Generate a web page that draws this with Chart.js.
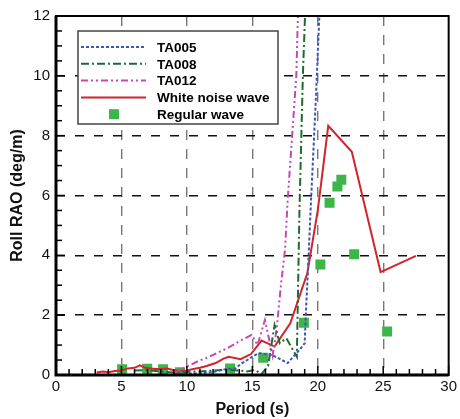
<!DOCTYPE html>
<html>
<head>
<meta charset="utf-8">
<script src="https://cdn.jsdelivr.net/npm/chart.js@4.4.0/dist/chart.umd.min.js"></script>
<style>
  html, body { margin: 0; padding: 0; background: #fff; }
  #wrap { width: 460px; height: 419px; }
</style>
</head>
<body>
<div id="wrap"><canvas id="chart" width="460" height="419"></canvas></div>
<script>
// [period (s), roll RAO (deg/m)]
const ta005 = [[9.0,0.02],[10,0.05],[11,0.05],[12,0.1],[12.6,0.16],[13.0,0.2],[13.7,0.22],[14.2,0.39],[15.45,0.73],[16.5,0.67],[17.7,0.4],[18.6,0.84],[19.0,1.06],[19.1,2.17],[19.25,3.5],[19.45,5.5],[19.85,9.2],[20.15,12.3]];
const ta008 = [[6.0,0.15],[7.0,0.16],[8.0,0.12],[9.0,0.08],[10,0.1],[11,0.12],[12,0.15],[13,0.18],[14,0.15],[14.6,0.12],[15.2,0.17],[15.7,0.03],[16.2,0.3],[16.7,1.67],[17.1,1.06],[17.6,1.23],[18.1,0.84],[18.4,0.61],[18.6,5.5],[18.86,10],[19.05,12.3]];
const ta012 = [[9.0,0.05],[10,0.28],[10.8,0.45],[11.7,0.61],[13.2,0.92],[14.1,1.15],[14.95,1.34],[15.4,1.0],[15.96,1.84],[16.55,0.65],[16.85,1.5],[17.2,3.07],[17.5,4.2],[17.7,5.85],[18.36,10],[18.5,12.3]];
const whiteNoise = [[3.1,0.08],[3.6,0.12],[4.0,0.09],[4.5,0.13],[5.0,0.15],[5.5,0.22],[6.0,0.24],[6.4,0.32],[6.8,0.24],[7.2,0.22],[7.6,0.2],[8.0,0.2],[8.5,0.22],[9.0,0.16],[9.5,0.14],[10.0,0.15],[10.5,0.2],[11.0,0.24],[11.5,0.3],[12.2,0.4],[12.8,0.55],[13.2,0.61],[14.1,0.53],[14.9,0.7],[15.7,1.15],[16.7,0.95],[17.9,1.73],[19.2,3.4],[20.0,5.5],[20.8,8.33],[22.6,7.46],[24.8,3.44],[27.5,3.98]];
const regularWave = [[5.05,0.19],[6.97,0.21],[8.18,0.19],[9.47,0.09],[13.3,0.22],[15.83,0.58],[18.94,1.75],[20.2,3.69],[20.9,5.76],[21.5,6.3],[21.8,6.53],[22.78,4.04],[25.3,1.45]];

const xTicks = [0, 5, 10, 15, 20, 25, 30];
const yTicks = [0, 2, 4, 6, 8, 10, 12];

const toXY = arr => arr.map(p => ({ x: p[0], y: p[1] }));
const FONT = "'Liberation Sans', Arial, sans-serif";

// legend box drawn inside the plot, plus inward ticks and frame
const legendBox = {
  id: "legendBox",
  afterDatasetsDraw(chart) {
    const { ctx, chartArea: a, scales: { x, y } } = chart;
    ctx.save();

    // inward ticks
    ctx.strokeStyle = "#000";
    ctx.lineWidth = 1.5;
    ctx.setLineDash([]);
    for (let v = 0; v <= 30; v += 1) {
      const px = x.getPixelForValue(v);
      const len = v % 5 === 0 ? 9 : 6;
      ctx.beginPath(); ctx.moveTo(px, a.bottom); ctx.lineTo(px, a.bottom - len); ctx.stroke();
    }
    for (let v = 0; v <= 12; v += 0.5) {
      const py = y.getPixelForValue(v);
      const len = v % 2 === 0 ? 9 : 6;
      ctx.beginPath(); ctx.moveTo(a.left, py); ctx.lineTo(a.left + len, py); ctx.stroke();
    }

    // frame
    ctx.lineWidth = 2;
    ctx.strokeRect(a.left, a.top, a.right - a.left, a.bottom - a.top);
    ctx.lineWidth = 3;
    ctx.beginPath();
    ctx.moveTo(a.left, a.top); ctx.lineTo(a.left, a.bottom); ctx.lineTo(a.right, a.bottom);
    ctx.stroke();

    // legend
    const bx = 78, by = 31, bw = 200, bh = 93;
    ctx.fillStyle = "#fff";
    ctx.fillRect(bx, by, bw, bh);
    ctx.strokeStyle = "#444";
    ctx.lineWidth = 1.5;
    ctx.strokeRect(bx, by, bw, bh);

    ctx.font = "bold 13.5px " + FONT;
    ctx.textBaseline = "middle";
    chart.data.datasets.forEach((ds, i) => {
      const rowY = 47 + i * 16.8;
      if (ds.showLine) {
        ctx.strokeStyle = ds.borderColor;
        ctx.lineWidth = ds.borderWidth;
        ctx.setLineDash(ds.borderDash || []);
        ctx.beginPath(); ctx.moveTo(81, rowY); ctx.lineTo(146, rowY); ctx.stroke();
        ctx.setLineDash([]);
      } else {
        ctx.fillStyle = ds.backgroundColor;
        ctx.fillRect(109, rowY - 5, 10, 10);
      }
      ctx.fillStyle = "#000";
      ctx.fillText(ds.label, 157, rowY + 1);
    });
    ctx.restore();
  }
};

new Chart(document.getElementById("chart"), {
  type: "scatter",
  data: {
    datasets: [
      {
        label: "TA005",
        data: toXY(ta005),
        showLine: true,
        borderColor: "#3d55b3",
        borderWidth: 2,
        borderDash: [3, 2],
        pointRadius: 0,
      },
      {
        label: "TA008",
        data: toXY(ta008),
        showLine: true,
        borderColor: "#1f6a2f",
        borderWidth: 2,
        borderDash: [8, 3, 2, 3],
        pointRadius: 0,
      },
      {
        label: "TA012",
        data: toXY(ta012),
        showLine: true,
        borderColor: "#c548b4",
        borderWidth: 2,
        borderDash: [7, 3, 2, 3, 2, 3],
        pointRadius: 0,
      },
      {
        label: "White noise wave",
        data: toXY(whiteNoise),
        showLine: true,
        borderColor: "#d2242c",
        borderWidth: 2,
        pointRadius: 0,
      },
      {
        label: "Regular wave",
        data: toXY(regularWave),
        showLine: false,
        backgroundColor: "#3db54a",
        borderColor: "#3db54a",
        borderWidth: 0,
        pointStyle: "rect",
        pointRadius: 7.07,
      },
    ],
  },
  options: {
    responsive: false,
    animation: false,
    layout: { padding: { top: 16, right: 6, left: 0, bottom: 0 } },
    plugins: { legend: { display: false }, tooltip: { enabled: false } },
    scales: {
      x: {
        type: "linear",
        min: 0,
        max: 30,
        afterBuildTicks: s => { s.ticks = xTicks.map(v => ({ value: v })); },
        afterFit: s => { s.height = 44; },
        ticks: { color: "#111", font: { family: FONT, size: 15 }, padding: 3, maxRotation: 0 },
        grid: {
          color: c => (c.tick && (c.tick.value === 0 || c.tick.value === 30)) ? "rgba(0,0,0,0)" : "#777",
          lineWidth: 1.4,
          drawTicks: false,
        },
        border: { display: false, dash: [10, 9] },
        title: { display: true, text: "Period (s)", color: "#111", font: { family: FONT, size: 16, weight: "bold" }, padding: { top: 0, bottom: 0 } },
      },
      y: {
        type: "linear",
        min: 0,
        max: 12,
        afterBuildTicks: s => { s.ticks = yTicks.map(v => ({ value: v })); },
        afterFit: s => { s.width = 56; },
        ticks: { color: "#111", font: { family: FONT, size: 15 }, padding: 6 },
        grid: {
          color: c => (c.tick && (c.tick.value === 0 || c.tick.value === 12)) ? "rgba(0,0,0,0)" : "#111",
          lineWidth: 1.4,
          drawTicks: false,
        },
        border: { display: false, dash: [9, 10] },
        title: { display: true, text: "Roll RAO (deg/m)", color: "#111", font: { family: FONT, size: 16, weight: "bold" }, padding: { top: 8, bottom: 0 } },
      },
    },
  },
  plugins: [legendBox],
});
</script>
</body>
</html>
